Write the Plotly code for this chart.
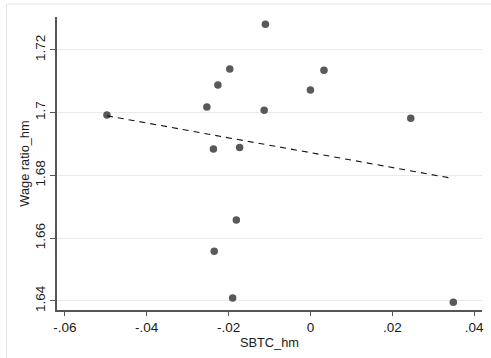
import numpy as np
import plotly.graph_objects as go

# SBTC_hm vs. wage ratio_hm, one point per observation
sbtc_hm = [-0.0497, -0.0253, -0.0226, -0.0197, -0.0237, -0.0173, -0.0110, -0.0113,
           0.0000, 0.0033, 0.0245, -0.0181, -0.0235, -0.0190, 0.0349]
wage_ratio_hm = [1.6993, 1.7018, 1.7088, 1.7139, 1.6884, 1.6889, 1.7282, 1.7008,
                 1.7072, 1.7135, 1.6982, 1.6658, 1.6558, 1.6409, 1.6396]

x_ticks = [-0.06, -0.04, -0.02, 0.0, 0.02, 0.04]
x_tick_labels = ["-.06", "-.04", "-.02", "0", ".02", ".04"]
y_ticks = [1.64, 1.66, 1.68, 1.70, 1.72]
y_tick_labels = ["1.64", "1.66", "1.68", "1.7", "1.72"]

# linear fit over the observed range
xs = np.array(sbtc_hm)
ys = np.array(wage_ratio_hm)
slope, intercept = np.polyfit(xs, ys, 1)
fit_x = np.array([xs.min(), xs.max()])
fit_y = intercept + slope * fit_x

FONT = "Liberation Sans, Arial, Helvetica, sans-serif"
TEXT = "#1a1a1a"
AXIS = "#555555"
GRID = "#eaeaea"

fig = go.Figure()
fig.add_trace(go.Scatter(
    x=sbtc_hm, y=wage_ratio_hm, mode="markers",
    marker=dict(size=7.5, color="#595959", line=dict(width=0)),
    showlegend=False, hoverinfo="x+y",
))
fig.add_trace(go.Scatter(
    x=fit_x, y=fit_y, mode="lines",
    line=dict(color="#111111", width=1.1, dash="6px,5px"),
    showlegend=False, hoverinfo="skip",
))

fig.update_layout(
    width=491, height=358,
    margin=dict(l=57, r=7, t=17, b=48),
    paper_bgcolor="white", plot_bgcolor="white",
    font=dict(family=FONT, size=13.5, color=TEXT),
    # light outer frame of the graph region
    shapes=[dict(type="rect", xref="paper", yref="paper",
                 x0=-0.119, x1=1.2, y0=-0.3, y1=1.044,
                 line=dict(color="#e4e4e4", width=1), fillcolor="rgba(0,0,0,0)",
                 layer="below")],
)
fig.update_xaxes(
    range=[-0.0619, 0.0419],
    tickvals=x_ticks, ticktext=x_tick_labels,
    showgrid=False, zeroline=False,
    showline=True, linecolor=AXIS, linewidth=1.5,
    ticks="outside", ticklen=4, tickwidth=1.2, tickcolor=AXIS,
    tickfont=dict(family=FONT, size=13.5, color=TEXT),
    title=dict(text="SBTC_hm", font=dict(family=FONT, size=12.8, color=TEXT), standoff=0),
)
fig.update_yaxes(
    range=[1.6371, 1.7305],
    tickvals=y_ticks, ticktext=y_tick_labels, tickangle=-90,
    showgrid=True, gridcolor=GRID, gridwidth=1.2, zeroline=False,
    showline=True, linecolor=AXIS, linewidth=1.5,
    ticks="outside", ticklen=5, tickwidth=1.2, tickcolor=AXIS,
    tickfont=dict(family=FONT, size=13.5, color=TEXT),
    title=dict(text="Wage ratio_hm", font=dict(family=FONT, size=12.8, color=TEXT), standoff=0),
)

fig.write_html("out.html")
